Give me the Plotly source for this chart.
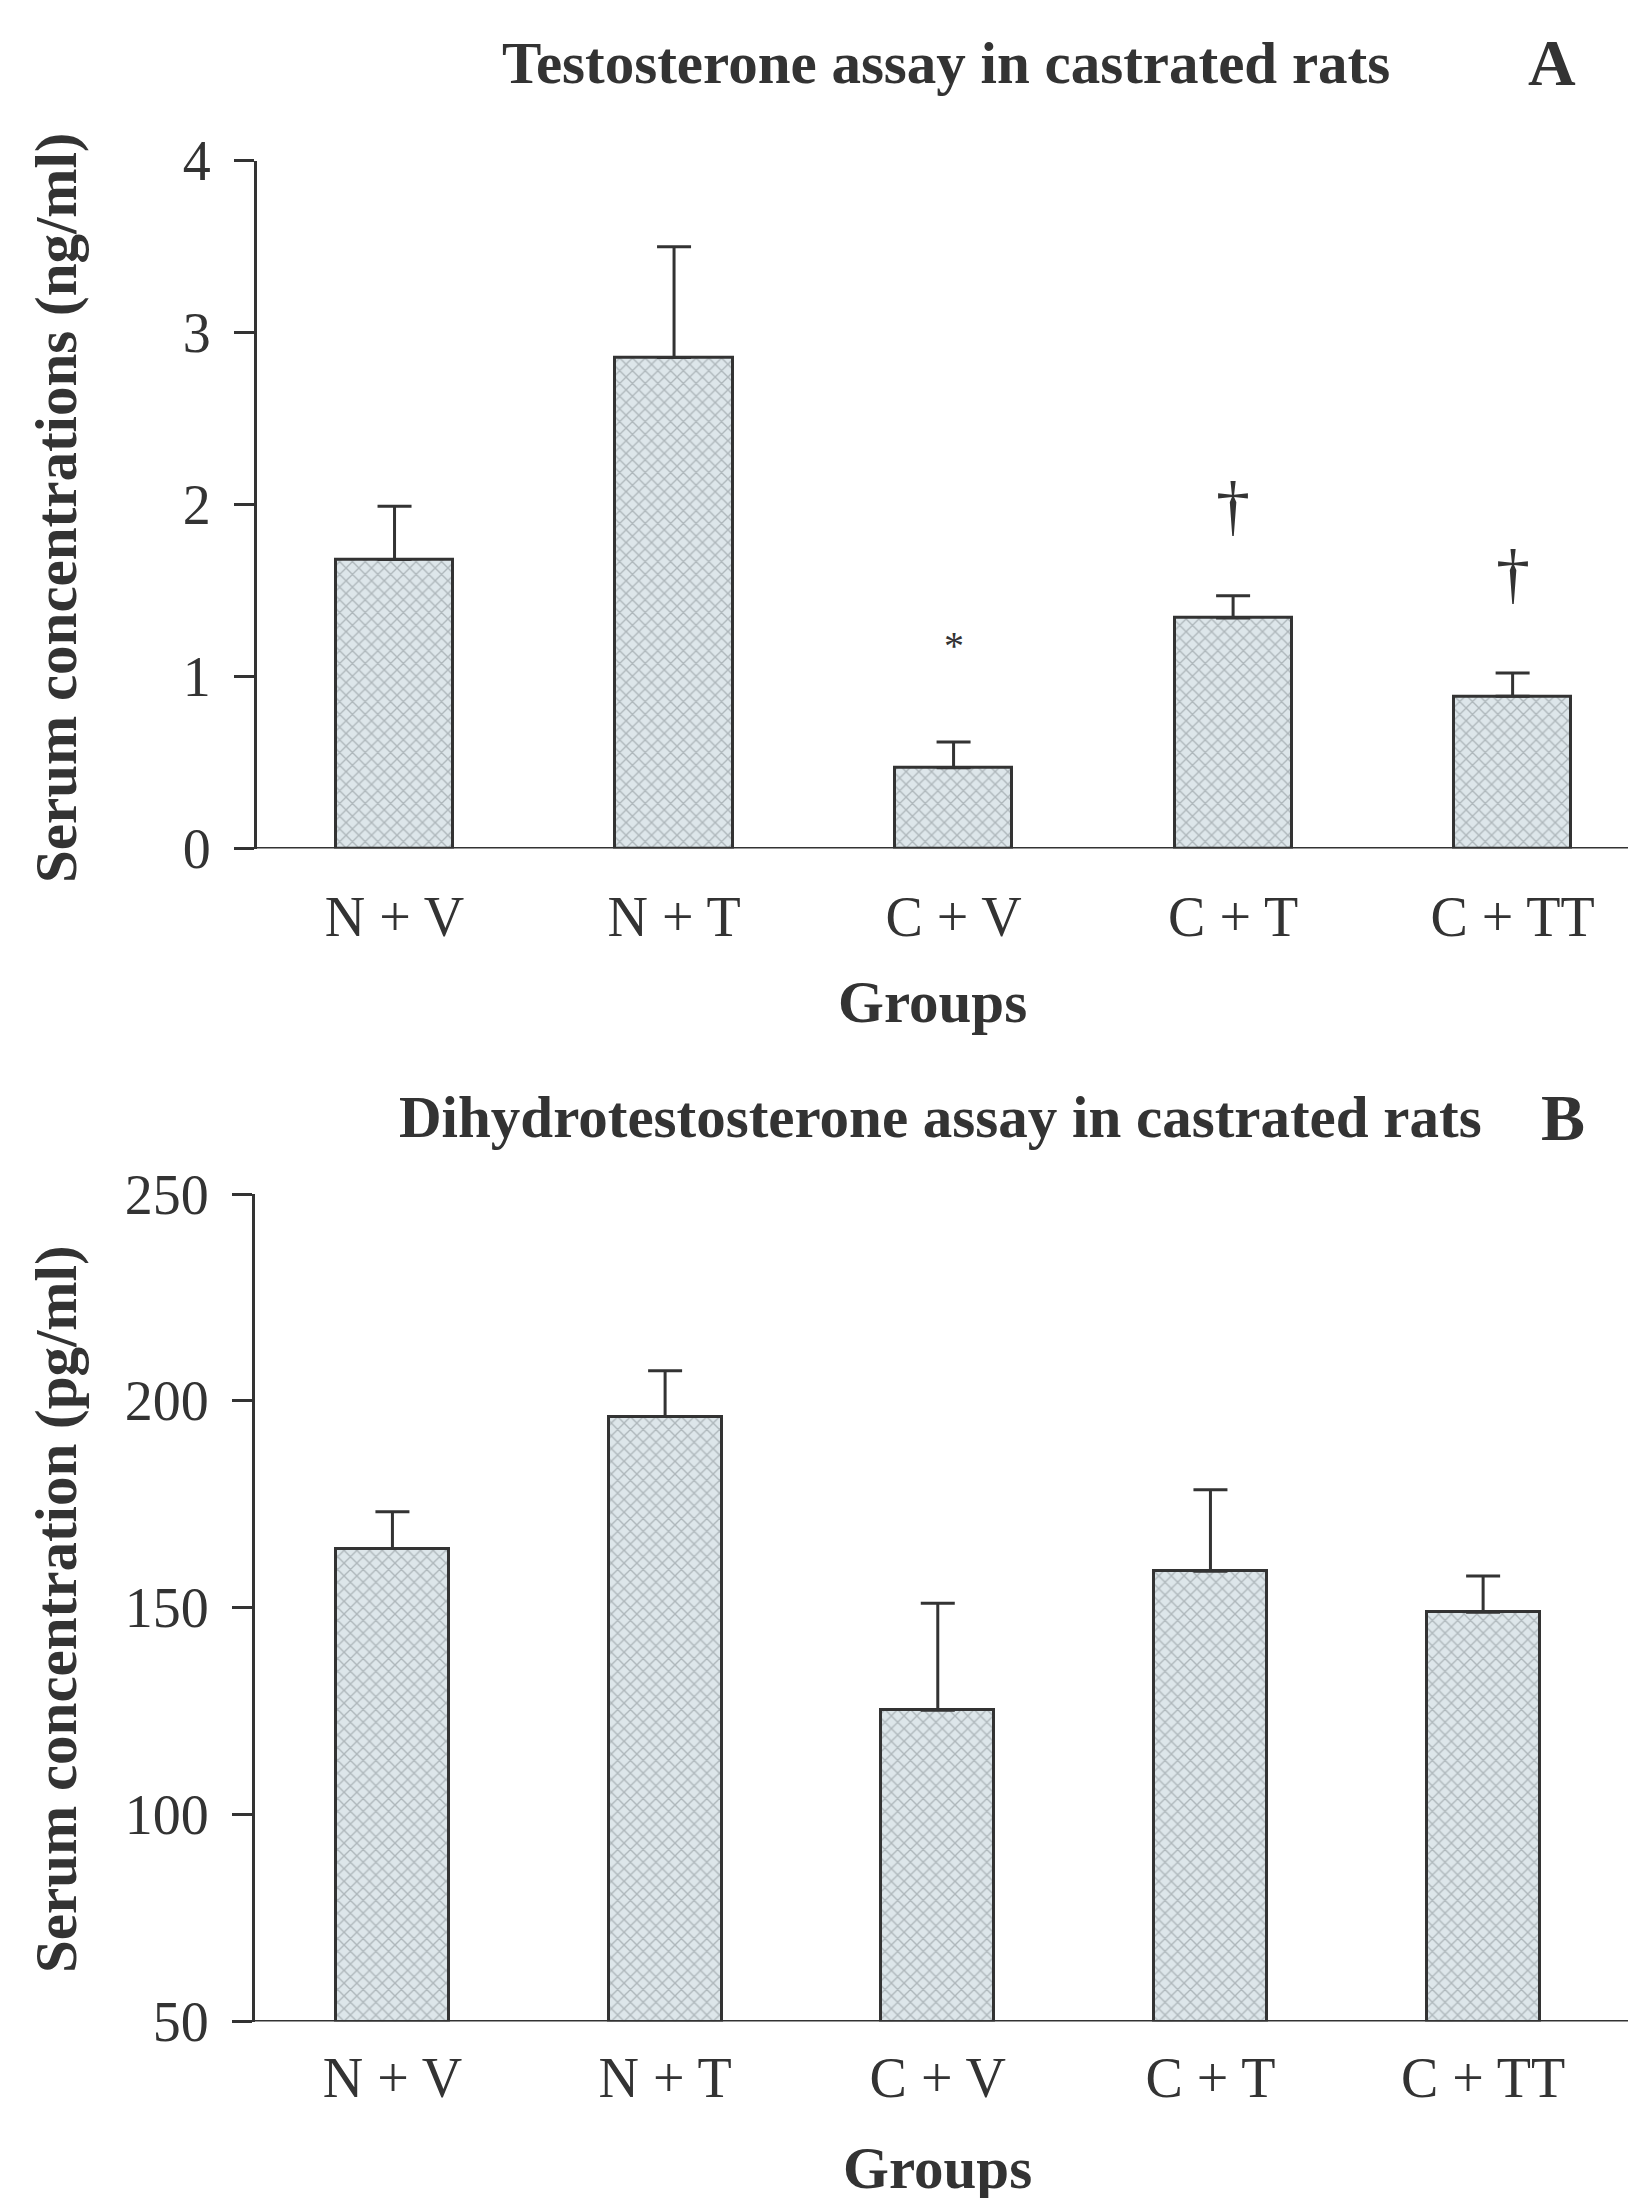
import plotly.graph_objects as go

# ---------------- data ----------------
groups = ["N + V", "N + T", "C + V", "C + T", "C + TT"]

# Panel A: testosterone (ng/ml)
testo_mean = [1.68, 2.855, 0.47, 1.34, 0.885]
testo_upper = [1.99, 3.50, 0.62, 1.47, 1.02]
testo_marks = ["", "", "*", "†", "†"]
testo_mark_y = [None, None, 1.18, 2.0, 1.6]

# Panel B: dihydrotestosterone (pg/ml)
dht_mean = [164.3, 196.2, 125.2, 158.8, 148.9]
dht_upper = [173.2, 207.3, 151.1, 178.5, 157.7]

yticks_a = [0, 1, 2, 3, 4]
yticks_b = [50, 100, 150, 200, 250]

# ---------------- style ----------------
W, H = 1636, 2198
OFF = 8  # page body margin
FONT = "Liberation Serif"
INK = "#333333"
FILL_BG = "#dde6ea"
FILL_FG = "#80878b"

def px_x(p):
    return (p - OFF) / W

def px_y(p):
    return 1 - (p - OFF) / H

fig = go.Figure()
idx = list(range(len(groups)))

pattern = dict(shape="x", size=9, solidity=0.28, fgcolor=FILL_FG, bgcolor=FILL_BG,
               fillmode="overlay")

fig.add_trace(go.Bar(
    x=idx, y=testo_mean, xaxis="x", yaxis="y", width=0.419,
    marker=dict(color=FILL_BG, line=dict(color=INK, width=3), pattern=pattern),
    error_y=dict(type="data", symmetric=False,
                 array=[u - m for u, m in zip(testo_upper, testo_mean)],
                 arrayminus=[0] * len(testo_mean),
                 color=INK, thickness=3, width=17),
    showlegend=False, hoverinfo="skip",
))

# panel B bars start from the axis floor (50)
fig.add_trace(go.Bar(
    x=idx, y=[m - yticks_b[0] for m in dht_mean], base=yticks_b[0],
    xaxis="x2", yaxis="y2", width=0.415,
    marker=dict(color=FILL_BG, line=dict(color=INK, width=3), pattern=pattern),
    error_y=dict(type="data", symmetric=False,
                 array=[u - m for u, m in zip(dht_upper, dht_mean)],
                 arrayminus=[0] * len(dht_mean),
                 color=INK, thickness=3, width=17),
    showlegend=False, hoverinfo="skip",
))

tickfont = dict(family=FONT, size=56, color=INK)

# x range end chosen so that the axis runs to the window's right edge
fig.update_layout(
    width=W, height=H,
    margin=dict(l=0, r=0, t=0, b=0, autoexpand=False),
    paper_bgcolor="white", plot_bgcolor="white",
    bargap=0,
    xaxis=dict(domain=[px_x(257), 1], range=[-0.492, 4.47],
               tickmode="array", tickvals=idx, ticktext=groups,
               ticks="", showline=False, showgrid=False, zeroline=False,
               tickfont=tickfont, ticklabelstandoff=30, anchor="y", automargin=False),
    yaxis=dict(domain=[px_y(848.5), px_y(160.7)], range=[0, 4],
               tickmode="array", tickvals=yticks_a,
               ticks="outside", ticklen=20, tickwidth=3, tickcolor=INK,
               showline=True, linecolor=INK, linewidth=3,
               showgrid=False, zeroline=False,
               tickfont=tickfont, ticklabelstandoff=12, anchor="x", automargin=False),
    xaxis2=dict(domain=[px_x(255), 1], range=[-0.504, 4.59],
                tickmode="array", tickvals=idx, ticktext=groups,
                ticks="", showline=False, showgrid=False, zeroline=False,
                tickfont=tickfont, ticklabelstandoff=18, anchor="y2", automargin=False),
    yaxis2=dict(domain=[px_y(2021.5), px_y(1194)], range=[50, 250],
                tickmode="array", tickvals=yticks_b,
                ticks="outside", ticklen=20, tickwidth=3, tickcolor=INK,
                showline=True, linecolor=INK, linewidth=3,
                showgrid=False, zeroline=False,
                tickfont=tickfont, ticklabelstandoff=12, anchor="x2", automargin=False),
)

# baselines (extend left to the tick ends, as in the original)
fig.add_shape(type="line", xref="paper", yref="y", x0=px_x(237), x1=1, y0=0, y1=0,
              line=dict(color=INK, width=3))
fig.add_shape(type="line", xref="paper", yref="y2", x0=px_x(235), x1=1, y0=50, y1=50,
              line=dict(color=INK, width=3))


def ann(text, x, y, size=59, angle=0, xref="paper", yref="paper", weight="bold"):
    fig.add_annotation(text=text, x=x, y=y, xref=xref, yref=yref, showarrow=False,
                       textangle=angle, xanchor="center", yanchor="middle",
                       font=dict(family=FONT, size=size, color=INK, weight=weight))

# titles
ann("Testosterone assay in castrated rats", px_x(946), px_y(63))
ann("A", px_x(1552), px_y(63), size=66)
ann("Dihydrotestosterone assay in castrated rats", px_x(940), px_y(1117))
ann("B", px_x(1563), px_y(1117), size=66)

# axis titles
ann("Serum concentrations (ng/ml)", px_x(56), px_y(508), angle=-90)
ann("Groups", px_x(932), px_y(1002))
ann("Serum concentration (pg/ml)", px_x(56), px_y(1609), angle=-90)
ann("Groups", px_x(937), px_y(2168))

# significance marks
for i, (m, yy) in enumerate(zip(testo_marks, testo_mark_y)):
    if m:
        fig.add_annotation(text=m, x=i, y=yy, xref="x", yref="y", showarrow=False,
                           xanchor="center", yanchor="middle",
                           font=dict(family=FONT, size=40 if m == "*" else 68, color=INK))

fig.write_html("out.html")
